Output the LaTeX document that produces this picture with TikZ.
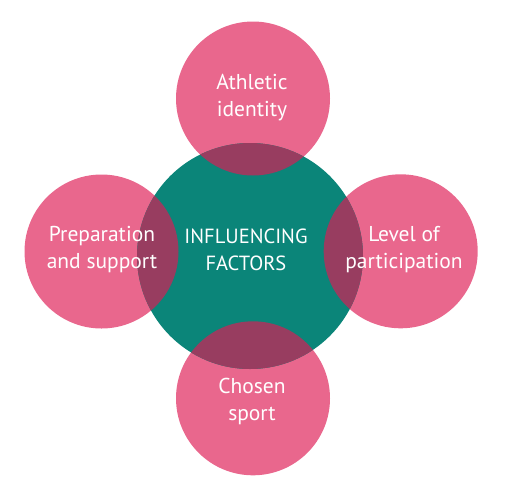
\documentclass[tikz,border=0pt]{standalone}
\usepackage{fontspec}
\setmainfont{PT Sans}
\definecolor{pinkc}{HTML}{E9678D}
\definecolor{tealc}{HTML}{0B8579}
\definecolor{overc}{HTML}{983D60}
\begin{document}
\begin{tikzpicture}[x=1pt,y=-1pt,
  petal/.style={circle,fill=pinkc,minimum size=154pt,inner sep=0pt},
  hubc/.style={circle,fill=tealc,minimum size=226pt,inner sep=0pt},
  lbl/.style={text=white,align=center,inner sep=0pt,font=\fontsize{21.5pt}{27pt}\selectfont},
  hublbl/.style={lbl,font=\fontsize{20.5pt}{27pt}\selectfont}]
\useasboundingbox (0,0) rectangle (512,491);
\node[petal] (top) at (253,98.5) {};
\node[petal] (left) at (101.5,251.5) {};
\node[petal] (right) at (400.7,251.3) {};
\node[petal] (bottom) at (253,398.3) {};
\node[hubc] (hub) at (250,256) {};
\begin{scope}
  \clip (hub.center) circle (113pt);
  \fill[overc] (top.center) circle (77pt);
  \fill[overc] (left.center) circle (77pt);
  \fill[overc] (right.center) circle (77pt);
  \fill[overc] (bottom.center) circle (77pt);
\end{scope}
\node[lbl] (ttop) at (252,98) {Athletic\\identity};
\node[lbl] (tleft) at (102,250) {Preparation\\and support};
\node[lbl] (tright) at (404,250) {Level of\\participation};
\node[lbl] (tbottom) at (252,401) {Chosen\\sport};
\node[hublbl] (thub) at (246,250) {INFLUENCING\\FACTORS};
\end{tikzpicture}
\end{document}
